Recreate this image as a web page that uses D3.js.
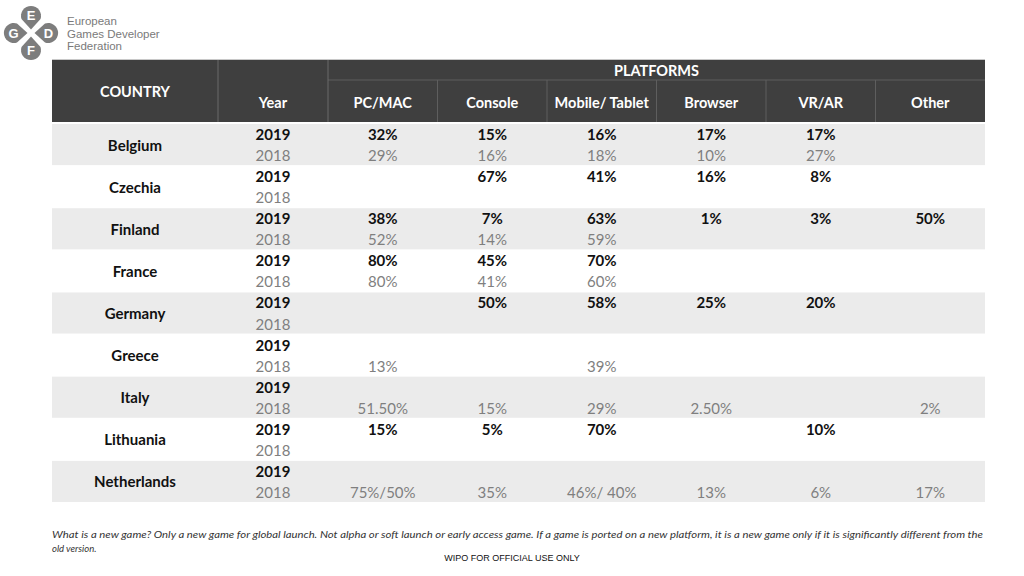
<!DOCTYPE html>
<html>
<head>
<meta charset="utf-8">
<script src="https://cdn.jsdelivr.net/npm/d3@7"></script>
<style>
  body { margin: 0; background: #fff; }
  svg { display: block; }
</style>
</head>
<body>
<svg id="chart" width="1024" height="576"></svg>
<script>
// -----------
// DATOS
// -----------
const countries = ['Belgium', 'Czechia', 'Finland', 'France', 'Germany', 'Greece', 'Italy', 'Lithuania', 'Netherlands'];
const platforms = ['PC/MAC', 'Console', 'Mobile/ Tablet', 'Browser', 'VR/AR', 'Other'];
const years = ['2019', '2018'];

// one row per country, one entry per platform ('' = empty cell)
const values2019 = [
  ['32%', '15%', '16%', '17%', '17%', ''],
  ['', '67%', '41%', '16%', '8%', ''],
  ['38%', '7%', '63%', '1%', '3%', '50%'],
  ['80%', '45%', '70%', '', '', ''],
  ['', '50%', '58%', '25%', '20%', ''],
  ['', '', '', '', '', ''],
  ['', '', '', '', '', ''],
  ['15%', '5%', '70%', '', '10%', ''],
  ['', '', '', '', '', ''],
];
const values2018 = [
  ['29%', '16%', '18%', '10%', '27%', ''],
  ['', '', '', '', '', ''],
  ['52%', '14%', '59%', '', '', ''],
  ['80%', '41%', '60%', '', '', ''],
  ['', '', '', '', '', ''],
  ['13%', '', '39%', '', '', ''],
  ['51.50%', '15%', '29%', '2.50%', '', '2%'],
  ['', '', '', '', '', ''],
  ['75%/50%', '35%', '46%/ 40%', '13%', '6%', '17%'],
];

const logoLines = ['European', 'Games Developer', 'Federation'];
const note = 'What is a new game? Only a new game for global launch. Not alpha or soft launch or early access game. If a game is ported on a new platform, it is a new game only if it is significantly different from the';
const note2 = 'old version.';
const stamp = 'WIPO FOR OFFICIAL USE ONLY';

// -----------
// LAYOUT
// -----------
const font = 'Lato, "Open Sans", sans-serif';
const headDark = '#3f3f3f';
const stripe = '#ebebeb';

const svg = d3.select('#chart');

const left = 52, right = 985;
const countryW = 166, yearW = 110;
const headTop = 60, headMid = 80, headBottom = 122;
const bodyTop = 124, bodyBottom = 503;

const xPlat = d3.scaleBand()
  .domain(platforms)
  .range([left + countryW + yearW, right]);

const yRow = d3.scaleBand()
  .domain(countries)
  .range([bodyTop, bodyBottom]);

const ySub = d3.scaleBand()
  .domain(years)
  .range([0, yRow.bandwidth()]);

// logo: four teardrop petals pointing to the centre
const logo = svg.append('g').attr('transform', 'translate(31,33)');
const petals = [['E', -90], ['D', 0], ['F', 90], ['G', 180]];
const petal = 'M3.5,0 L14,-9.5 A10,10 0 1 1 14,9.5 Z';
logo.selectAll('path').data(petals).join('path')
  .attr('d', petal)
  .attr('transform', (d) => `rotate(${d[1]})`)
  .attr('fill', '#7d7d7d');
logo.selectAll('text').data(petals).join('text')
  .attr('x', (d) => 17.5 * Math.cos(d[1] * Math.PI / 180))
  .attr('y', (d) => 17.5 * Math.sin(d[1] * Math.PI / 180) + 4.5)
  .attr('text-anchor', 'middle')
  .style('font', `bold 13px "Liberation Sans", Arial, sans-serif`)
  .attr('fill', '#fff')
  .text((d) => d[0]);

svg.append('g').selectAll('text').data(logoLines).join('text')
  .attr('x', 67).attr('y', (d, i) => 25 + i * 12.5)
  .style('font', `11.5px "Liberation Sans", Arial, sans-serif`)
  .attr('fill', '#7a7a7a')
  .text((d) => d);

// header
const head = svg.append('g');
head.append('line')
  .attr('x1', left).attr('x2', right).attr('y1', headTop - 0.5).attr('y2', headTop - 0.5)
  .attr('stroke', '#c8c8c8');
head.append('rect')
  .attr('x', left).attr('y', headTop)
  .attr('width', right - left).attr('height', headBottom - headTop)
  .attr('fill', headDark);

// header grid lines
head.append('line')
  .attr('x1', xPlat.range()[0]).attr('x2', right)
  .attr('y1', headMid).attr('y2', headMid)
  .attr('stroke', '#5e5e5e');
head.selectAll('line.v').data([left + countryW, left + countryW + yearW]).join('line')
  .attr('class', 'v')
  .attr('x1', (d) => d).attr('x2', (d) => d)
  .attr('y1', headTop).attr('y2', headBottom)
  .attr('stroke', '#6a6a6a');
head.selectAll('line.p').data(platforms.slice(1)).join('line')
  .attr('class', 'p')
  .attr('x1', (d) => xPlat(d)).attr('x2', (d) => xPlat(d))
  .attr('y1', headMid).attr('y2', headBottom)
  .attr('stroke', '#5e5e5e');

const headText = (x, y, t) => head.append('text')
  .attr('x', x).attr('y', y)
  .attr('text-anchor', 'middle')
  .style('font', `bold 14.5px ${font}`)
  .attr('fill', '#fff')
  .text(t);

headText(left + countryW / 2, 97, 'COUNTRY');
headText(left + countryW + yearW / 2, 108, 'Year');
headText((xPlat.range()[0] + right) / 2, 76, 'PLATFORMS');
platforms.forEach((p) => headText(xPlat(p) + xPlat.bandwidth() / 2, 108, p));

// body
const body = svg.append('g');
const rows = body.selectAll('g.row').data(countries).join('g')
  .attr('class', 'row')
  .attr('transform', (d) => `translate(0,${yRow(d)})`);

rows.append('rect')
  .attr('x', left).attr('y', 0)
  .attr('width', right - left).attr('height', yRow.bandwidth() - 1)
  .attr('fill', (d, i) => (i % 2 === 0 ? stripe : '#fff'));

rows.append('text')
  .attr('x', left + countryW / 2)
  .attr('y', yRow.bandwidth() / 2 + 5.5)
  .attr('text-anchor', 'middle')
  .style('font', `bold 15px ${font}`)
  .attr('fill', '#111')
  .text((d) => d);

const cellStyle = {
  '2019': { weight: 'bold', color: '#111' },
  '2018': { weight: 'normal', color: '#7f7f7f' },
};

years.forEach((yr) => {
  const vals = yr === '2019' ? values2019 : values2018;
  const st = cellStyle[yr];
  const yText = ySub(yr) + ySub.bandwidth() / 2 + 5.5;

  rows.append('text')
    .attr('x', left + countryW + yearW / 2)
    .attr('y', yText)
    .attr('text-anchor', 'middle')
    .style('font', `${st.weight} 15px ${font}`)
    .attr('fill', st.color)
    .text(yr);

  rows.each(function (c, i) {
    d3.select(this).selectAll(`text.v${yr}`)
      .data(platforms.map((p, j) => ({ p, v: vals[i][j] })).filter((d) => d.v !== ''))
      .join('text')
      .attr('class', `v${yr}`)
      .attr('x', (d) => xPlat(d.p) + xPlat.bandwidth() / 2)
      .attr('y', yText)
      .attr('text-anchor', 'middle')
      .style('font', `${st.weight} 15px ${font}`)
      .attr('fill', st.color)
      .text((d) => d.v);
  });
});

// footnote
svg.append('text')
  .attr('x', left).attr('y', 538)
  .style('font', `italic 9.5px ${font}`)
  .attr('fill', '#333')
  .attr('textLength', right - left - 2)
  .attr('lengthAdjust', 'spacingAndGlyphs')
  .text(note);
svg.append('text')
  .attr('x', left).attr('y', 552)
  .style('font', `italic 9.5px ${font}`)
  .attr('fill', '#333')
  .text(note2);
svg.append('text')
  .attr('x', 512).attr('y', 561)
  .attr('text-anchor', 'middle')
  .style('font', `9px "Liberation Sans", Arial, sans-serif`)
  .attr('fill', '#111')
  .text(stamp);
</script>
</body>
</html>
